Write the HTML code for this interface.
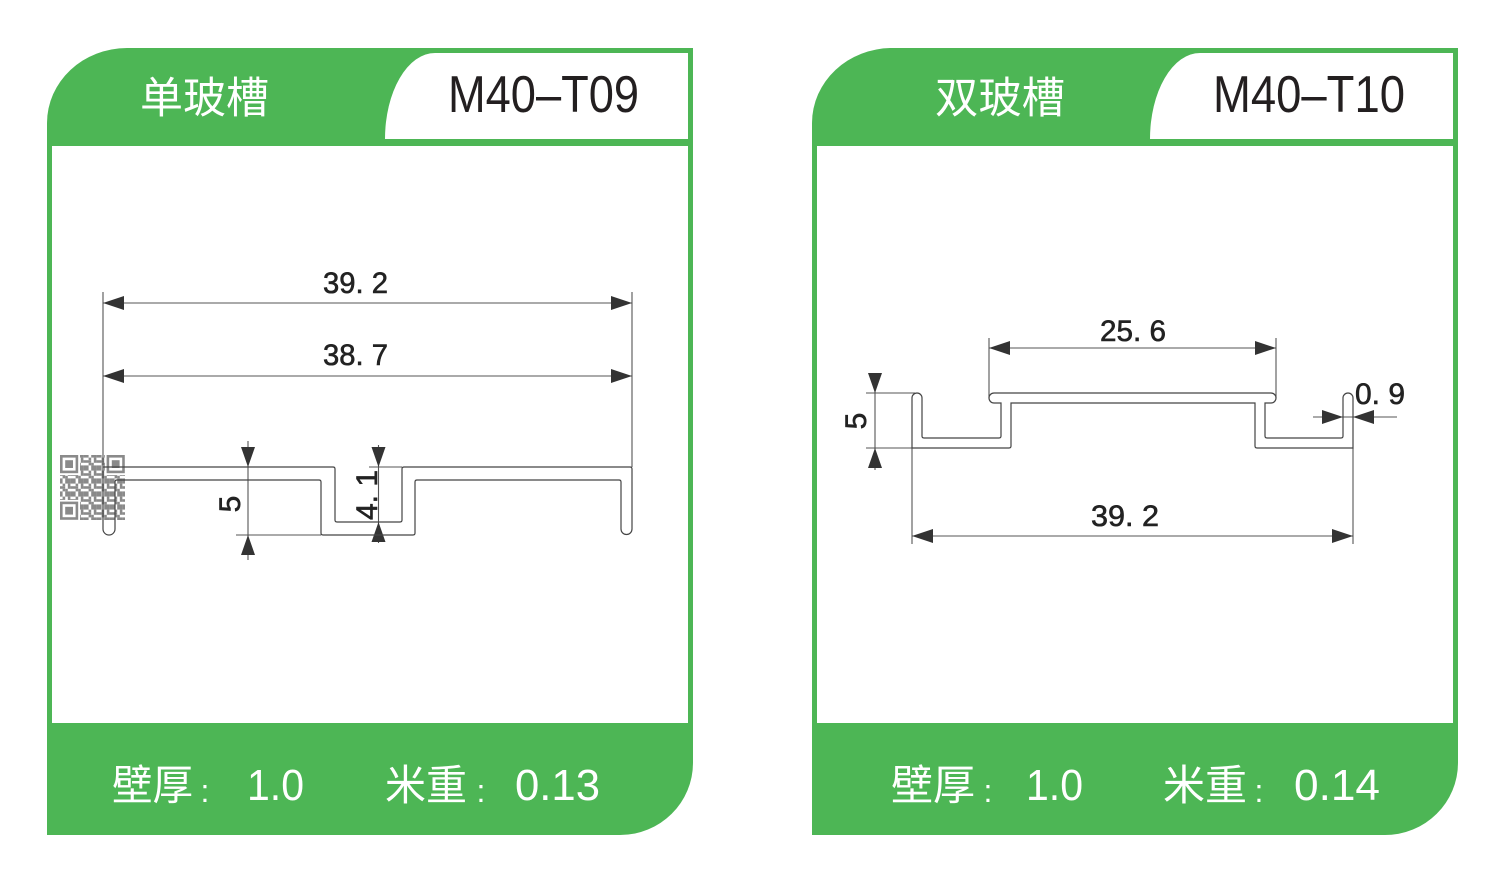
<!DOCTYPE html>
<html>
<head>
<meta charset="utf-8">
<style>
  html,body{margin:0;padding:0;background:#fff;}
  body{width:1500px;height:876px;overflow:hidden;}
  svg{display:block;}
  .cjk{font-family:"Liberation Sans","Noto Sans CJK SC",sans-serif;}
  .lat{font-family:"Liberation Sans",sans-serif;}
  .dim{font-family:"Liberation Sans",sans-serif;font-size:30px;fill:#222;stroke:#222;stroke-width:0.6;}
</style>
</head>
<body>
<svg width="1500" height="876" viewBox="0 0 1500 876" xmlns="http://www.w3.org/2000/svg">
  <defs>
    <pattern id="qrp" x="60" y="455" width="13" height="13" patternUnits="userSpaceOnUse">
      <rect x="0" y="0" width="2.6" height="2.6" fill="#8a8a8a"/>
      <rect x="5.2" y="0" width="5.2" height="2.6" fill="#8a8a8a"/>
      <rect x="2.6" y="2.6" width="2.6" height="2.6" fill="#8a8a8a"/>
      <rect x="7.8" y="2.6" width="2.6" height="5.2" fill="#8a8a8a"/>
      <rect x="0" y="5.2" width="5.2" height="2.6" fill="#8a8a8a"/>
      <rect x="10.4" y="5.2" width="2.6" height="2.6" fill="#8a8a8a"/>
      <rect x="2.6" y="7.8" width="2.6" height="2.6" fill="#8a8a8a"/>
      <rect x="5.2" y="10.4" width="5.2" height="2.6" fill="#8a8a8a"/>
      <rect x="10.4" y="10.4" width="2.6" height="2.6" fill="#8a8a8a"/>
      <rect x="0" y="10.4" width="2.6" height="2.6" fill="#8a8a8a"/>
      <rect x="10.4" y="0" width="2.6" height="2.6" fill="#8a8a8a"/>
      <rect x="5.2" y="7.8" width="2.6" height="2.6" fill="#8a8a8a"/>
    </pattern>
  </defs>

  <!-- ================= PANEL 1 ================= -->
  <path d="M47,835 L47,123 A80,75 0 0 1 127,48 L693,48 L693,763 A73,72 0 0 1 620,835 Z" fill="#4db655"/>
  <rect x="52" y="146" width="636" height="577" fill="#fff"/>
  <path d="M385,139 A50,86 0 0 1 435,53 L688,53 L688,139 Z" fill="#fff"/>

  <text class="cjk" x="140" y="113" font-size="43" fill="#fff" textLength="129" lengthAdjust="spacingAndGlyphs">单玻槽</text>
  <text class="lat" x="448" y="112" font-size="52" fill="#231f20" textLength="191" lengthAdjust="spacingAndGlyphs">M40–T09</text>

  <!-- footer 1 -->
  <text class="cjk" x="112" y="800" font-size="42" fill="#fff" textLength="81" lengthAdjust="spacingAndGlyphs">壁厚</text>
  <text class="lat" x="205" y="802" font-size="32" fill="#fff" text-anchor="middle">:</text>
  <text class="lat" x="247" y="800" font-size="44" fill="#fff" textLength="57" lengthAdjust="spacingAndGlyphs">1.0</text>
  <text class="cjk" x="385" y="800" font-size="42" fill="#fff" textLength="82" lengthAdjust="spacingAndGlyphs">米重</text>
  <text class="lat" x="481" y="802" font-size="32" fill="#fff" text-anchor="middle">:</text>
  <text class="lat" x="515" y="800" font-size="44" fill="#fff" textLength="85" lengthAdjust="spacingAndGlyphs">0.13</text>

  <!-- QR code -->
  <rect x="60" y="455" width="65" height="65" fill="url(#qrp)"/>
  <g fill="#fff">
    <rect x="60" y="455" width="20" height="20"/>
    <rect x="105" y="455" width="20" height="20"/>
    <rect x="60" y="500" width="20" height="20"/>
  </g>
  <g fill="none" stroke="#8a8a8a" stroke-width="2.6">
    <rect x="61.3" y="456.3" width="15.6" height="15.6"/>
    <rect x="107.9" y="456.3" width="15.6" height="15.6"/>
    <rect x="61.3" y="502.9" width="15.6" height="15.6"/>
  </g>
  <g fill="#8a8a8a">
    <rect x="65.2" y="460.2" width="7.8" height="7.8"/>
    <rect x="111.8" y="460.2" width="7.8" height="7.8"/>
    <rect x="65.2" y="506.8" width="7.8" height="7.8"/>
  </g>

  <!-- dimension lines panel 1 -->
  <g stroke="#555" stroke-width="1.1" fill="none">
    <line x1="103" y1="292" x2="103" y2="467"/>
    <line x1="632" y1="292" x2="632" y2="467"/>
    <line x1="103" y1="303" x2="632" y2="303"/>
    <line x1="103" y1="376" x2="632" y2="376"/>
    <line x1="248" y1="441" x2="248" y2="560"/>
    <line x1="236" y1="535" x2="321" y2="535"/>
    <line x1="378.5" y1="445" x2="378.5" y2="543"/>
    <line x1="369" y1="467" x2="402" y2="467"/>
  </g>
  <g fill="#333">
    <polygon points="103,303 124,296 124,310"/>
    <polygon points="632,303 611,296 611,310"/>
    <polygon points="103,376 124,369 124,383"/>
    <polygon points="632,376 611,369 611,383"/>
    <polygon points="248,467 241,447 255,447"/>
    <polygon points="248,535 241,555 255,555"/>
    <polygon points="378.5,467 371.5,447 385.5,447"/>
    <polygon points="378.5,522 371.5,542 385.5,542"/>
  </g>

  <!-- profile panel 1 -->
  <path d="M103,467 H333 Q335,467 335,469 V520 Q335,522 337,522 H400 Q402,522 402,520 V469 Q402,467 404,467 H630 Q632,467 632,469 V529 A5.5,5.5 0 0 1 621,529 V482 Q621,480 619,480 H417 Q415,480 415,482 V533 Q415,535 413,535 H323 Q321,535 321,533 V482 Q321,480 319,480 H117 Q115,480 115,482 V529 A6,6 0 0 1 103,529 Z" fill="none" stroke="#444" stroke-width="1.2"/>

  <text class="dim" x="323" y="293" textLength="65" lengthAdjust="spacingAndGlyphs">39. 2</text>
  <text class="dim" x="323" y="365" textLength="65" lengthAdjust="spacingAndGlyphs">38. 7</text>
  <text class="dim" transform="translate(240,504) rotate(-90)" text-anchor="middle">5</text>
  <text class="dim" transform="translate(377,495) rotate(-90)" text-anchor="middle" textLength="50" lengthAdjust="spacingAndGlyphs">4. 1</text>

  <!-- ================= PANEL 2 ================= -->
  <path d="M812,835 L812,123 A80,75 0 0 1 892,48 L1458,48 L1458,763 A73,72 0 0 1 1385,835 Z" fill="#4db655"/>
  <rect x="817" y="146" width="636" height="577" fill="#fff"/>
  <path d="M1150,139 A50,86 0 0 1 1200,53 L1453,53 L1453,139 Z" fill="#fff"/>

  <text class="cjk" x="935" y="113" font-size="43" fill="#fff" textLength="130" lengthAdjust="spacingAndGlyphs">双玻槽</text>
  <text class="lat" x="1213" y="112" font-size="52" fill="#231f20" textLength="192" lengthAdjust="spacingAndGlyphs">M40–T10</text>

  <!-- footer 2 -->
  <text class="cjk" x="891" y="800" font-size="42" fill="#fff" textLength="84" lengthAdjust="spacingAndGlyphs">壁厚</text>
  <text class="lat" x="988" y="802" font-size="32" fill="#fff" text-anchor="middle">:</text>
  <text class="lat" x="1026" y="800" font-size="44" fill="#fff" textLength="57" lengthAdjust="spacingAndGlyphs">1.0</text>
  <text class="cjk" x="1163" y="800" font-size="42" fill="#fff" textLength="84" lengthAdjust="spacingAndGlyphs">米重</text>
  <text class="lat" x="1259" y="802" font-size="32" fill="#fff" text-anchor="middle">:</text>
  <text class="lat" x="1294" y="800" font-size="44" fill="#fff" textLength="86" lengthAdjust="spacingAndGlyphs">0.14</text>

  <!-- dimension lines panel 2 -->
  <g stroke="#555" stroke-width="1.1" fill="none">
    <line x1="989" y1="338" x2="989" y2="398"/>
    <line x1="1276" y1="338" x2="1276" y2="398"/>
    <line x1="989" y1="348" x2="1276" y2="348"/>
    <line x1="875" y1="373" x2="875" y2="470"/>
    <line x1="866" y1="393" x2="915" y2="393"/>
    <line x1="866" y1="448" x2="912" y2="448"/>
    <line x1="1313" y1="417" x2="1397" y2="417"/>
    <line x1="912" y1="448" x2="912" y2="544"/>
    <line x1="1353" y1="448" x2="1353" y2="544"/>
    <line x1="912" y1="536" x2="1353" y2="536"/>
  </g>
  <g fill="#333">
    <polygon points="989,348 1010,341 1010,355"/>
    <polygon points="1276,348 1255,341 1255,355"/>
    <polygon points="875,393 868,373 882,373"/>
    <polygon points="875,448 868,468 882,468"/>
    <polygon points="1343,417 1322,410 1322,424"/>
    <polygon points="1353,417 1374,410 1374,424"/>
    <polygon points="912,536 933,529 933,543"/>
    <polygon points="1353,536 1332,529 1332,543"/>
  </g>

  <!-- profile panel 2 -->
  <path d="M994,393 H1271 A5,5 0 0 1 1271,403 H1265 V436 Q1265,438 1267,438 H1341 Q1343,438 1343,436 V398 A5,5 0 0 1 1353,398 V448 H1257 Q1255,448 1255,446 V403 H1011 V446 Q1011,448 1009,448 H912 V398 A5,5 0 0 1 922,398 V436 Q922,438 924,438 H999 Q1001,438 1001,436 V403 H994 A5,5 0 0 1 994,393 Z" fill="none" stroke="#444" stroke-width="1.2"/>

  <text class="dim" x="1100" y="341" textLength="66" lengthAdjust="spacingAndGlyphs">25. 6</text>
  <text class="dim" x="1355" y="404" textLength="50" lengthAdjust="spacingAndGlyphs">0. 9</text>
  <text class="dim" x="1091" y="526" textLength="68" lengthAdjust="spacingAndGlyphs">39. 2</text>
  <text class="dim" transform="translate(866,421) rotate(-90)" text-anchor="middle">5</text>
</svg>
</body>
</html>
